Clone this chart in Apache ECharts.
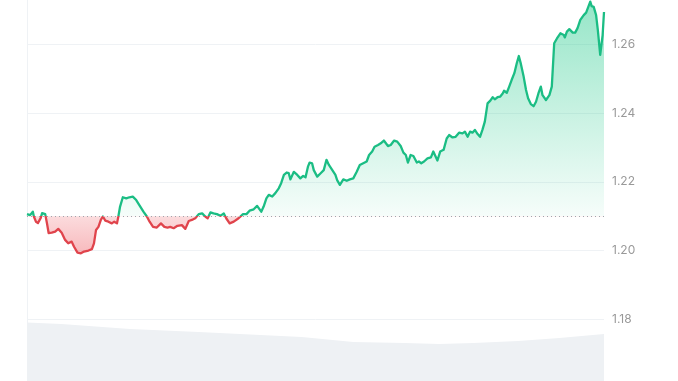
<!DOCTYPE html>
<html>
<head>
<meta charset="utf-8">
<script src="https://cdn.jsdelivr.net/npm/echarts@6/dist/echarts.min.js"></script>
<style>
html,body{margin:0;padding:0;background:#fff;}
#c{width:678px;height:381px;}
</style>
</head>
<body>
<div id="c"></div>
<script>
// time in hours (7-day window)
const times = [0,0.9,1.7,2.0,2.6,3.2,4.0,4.4,5.3,5.8,6.3,7.2,8.2,9.1,10.1,11.1,12.0,13.0,13.7,14.7,15.7,16.6,17.9,18.9,19.5,20.1,20.8,21.5,22.1,22.8,23.7,24.7,25.4,26.2,26.6,27.1,27.9,28.9,29.8,
30.8,31.8,32.8,33.9,34.9,35.7,36.7,37.8,39.0,40.0,40.9,41.7,42.7,43.8,45.1,46.1,47.1,48.0,49.0,50.0,51.0,51.9,52.6,53.4,54.3,55.3,56.3,57.3,58.0,59.0,60.2,61.6,
62.9,63.9,64.8,66.0,67.0,68.2,68.9,69.7,70.4,71.4,72.3,73.3,74.0,74.8,75.6,76.2,76.7,77.7,78.7,79.6,80.4,81.1,81.8,82.3,83.0,83.5,84.5,85.5,86.4,87.2,87.9,88.9,89.8,
90.3,91.1,92.1,93.1,94.0,95.0,96.0,96.9,97.9,98.9,99.6,100.5,101.2,102.2,103.0,103.9,104.4,105.1,105.9,106.9,107.8,108.8,109.6,110.3,110.9,111.7,112.5,113.5,114.1,114.8,115.6,116.6,117.6,118.3,119.0,119.5,120.3,121.3,
122.2,122.9,123.9,124.8,125.8,126.8,127.5,128.3,129.0,129.7,130.4,131.2,131.9,132.6,133.3,134.1,134.9,135.6,136.2,137.0,137.8,138.5,138.9,139.7,140.4,141.1,141.9,142.6,143.2,143.8,144.6,145.3,145.9,146.7,147.5,148.2,148.9,149.6,
150.1,151.1,151.6,152.1,152.8,153.5,154.3,155.3,156.3,156.6,157.2,157.9,158.9,159.6,160.3,161.1,162.1,162.8,163.4,164.0,164.4,165.0,165.7,166.2,166.9,167.6,168];
const prices = [1.2106,1.2103,1.2113,1.2099,1.2084,1.2080,1.2095,1.2109,1.2106,1.2080,1.2051,1.2052,1.2055,1.2063,1.2052,1.2031,1.2021,1.2026,1.2011,1.1994,1.1992,1.1997,1.2000,1.2004,1.2021,1.2060,1.2069,1.2089,1.2099,1.2087,1.2084,1.2079,1.2084,1.2079,1.2099,1.2128,1.2155,1.2152,1.2155,
1.2157,1.2147,1.2131,1.2113,1.2099,1.2084,1.2069,1.2067,1.2079,1.2069,1.2067,1.2069,1.2065,1.2072,1.2074,1.2063,1.2086,1.2089,1.2094,1.2106,1.2108,1.2099,1.2094,1.2111,1.2108,1.2106,1.2101,1.2108,1.2094,1.2079,1.2084,1.2094,
1.2106,1.2106,1.2116,1.2120,1.2130,1.2113,1.2128,1.2152,1.2162,1.2157,1.2167,1.2181,1.2196,1.2220,1.2227,1.2225,1.2207,1.2229,1.2220,1.2210,1.2217,1.2213,1.2244,1.2256,1.2254,1.2234,1.2215,1.2225,1.2234,1.2264,1.2249,1.2234,1.2220,
1.2205,1.2191,1.2207,1.2203,1.2207,1.2210,1.2229,1.2249,1.2254,1.2259,1.2278,1.2288,1.2302,1.2307,1.2312,1.2320,1.2324,1.2304,1.2307,1.2320,1.2317,1.2304,1.2285,1.2278,1.2256,1.2278,1.2275,1.2256,1.2259,1.2254,1.2259,1.2268,1.2271,1.2288,1.2273,1.2262,1.2288,1.2293,
1.2326,1.2336,1.2329,1.2331,1.2343,1.2341,1.2346,1.2331,1.2346,1.2343,1.2351,1.2339,1.2331,1.2351,1.2375,1.2428,1.2436,1.2446,1.2440,1.2446,1.2448,1.2457,1.2465,1.2459,1.2477,1.2496,1.2516,1.2545,1.2566,1.2543,1.2506,1.2467,1.2443,1.2426,1.2420,1.2433,1.2457,1.2477,
1.2452,1.2438,1.2443,1.2452,1.2477,1.2603,1.2617,1.2632,1.2627,1.2620,1.2637,1.2644,1.2634,1.2634,1.2647,1.2671,1.2685,1.2692,1.2708,1.2724,1.2711,1.2709,1.2685,1.2642,1.2569,1.2627,1.2694];
const baseline = 1.21;
const volTimes = [0,10,30,50,68,80,95,110,120,130,143,155,168];
const volumes = [72.2,70.4,64.2,60.5,56.8,54.3,48.1,46.9,45.7,46.9,49.4,53.1,58.0];
const yMin = 1.18, yMax = 1.26, yInterval = 0.02;

const priceData = times.map((t,i)=>[t, prices[i]]);
const volData = volTimes.map((t,i)=>[t, volumes[i]]);

const chart = echarts.init(document.getElementById('c'), null, {renderer:'canvas'});
chart.setOption({
  animation:false,
  backgroundColor:'#ffffff',
  grid:[
    {left:27, right:74, top:44.3, bottom:61.7, containLabel:false},
    {left:27, right:74, top:300, bottom:0, containLabel:false},
    {left:27, right:74, top:0, bottom:0, containLabel:false}
  ],
  xAxis:[
    {type:'value', gridIndex:0, min:0, max:168, show:false},
    {type:'value', gridIndex:1, min:0, max:168, show:false},
    {type:'value', gridIndex:2, min:0, max:168, show:false}
  ],
  yAxis:[
    {type:'value', gridIndex:0, position:'right', min:yMin, max:yMax, interval:yInterval,
     axisLine:{show:false}, axisTick:{show:false},
     axisLabel:{color:'#999999', fontSize:12, fontFamily:'Inter', margin:8, formatter:v=>v.toFixed(2)},
     splitLine:{lineStyle:{color:'#eff2f5', width:1}}},
    {type:'value', gridIndex:1, min:0, max:100, show:false},
    {type:'value', gridIndex:2, position:'left', min:0, max:1,
     axisLine:{show:true, lineStyle:{color:'#eff2f5', width:1}}, axisTick:{show:false}, axisLabel:{show:false}, splitLine:{show:false}}
  ],
  visualMap:{
    show:false, type:'piecewise', seriesIndex:1, dimension:1,
    pieces:[{gt:0, lte:baseline, color:'#e0444c'},{gt:baseline, lte:10, color:'#1bbd84'}]
  },
  series:[
    {type:'line', xAxisIndex:1, yAxisIndex:1, data:volData, symbol:'none', silent:true,
     lineStyle:{width:0}, areaStyle:{color:'#eef1f4', opacity:1}},
    {type:'line', xAxisIndex:0, yAxisIndex:0, data:priceData, symbol:'none', smooth:false, clip:false,
     lineStyle:{width:2.3, join:'round'},
     areaStyle:{origin:baseline, opacity:1, color:{type:'linear', x:0, y:0, x2:0, y2:381, global:true,
       colorStops:[
         {offset:0, color:'rgba(22,199,132,0.45)'},
         {offset:0.5675, color:'rgba(22,199,132,0.04)'},
         {offset:0.5676, color:'rgba(234,57,67,0.18)'},
         {offset:0.67, color:'rgba(234,57,67,0.36)'},
         {offset:1, color:'rgba(234,57,67,0.36)'}
       ]}},
     markLine:{silent:true, symbol:'none', label:{show:false},
       lineStyle:{color:'#a0a4ab', type:[1,3], width:1},
       data:[{yAxis:baseline}]}
    }
  ]
});
</script>
</body>
</html>
